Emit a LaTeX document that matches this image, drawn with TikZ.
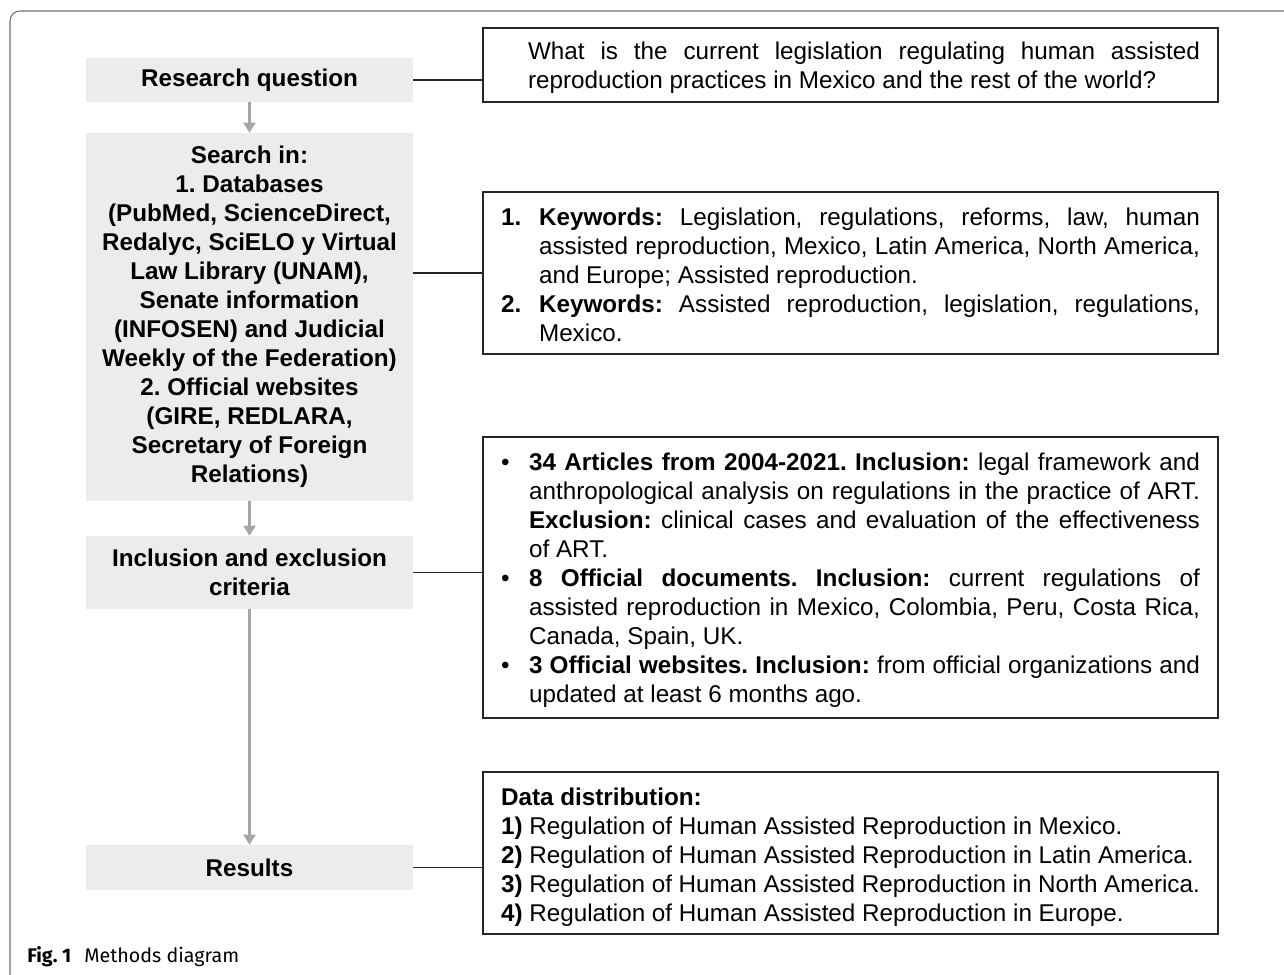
\documentclass[tikz,border=0pt]{standalone}
\usepackage{fontspec}
\setmainfont{Liberation Sans}
\newfontfamily\capfont{Fira Sans}
\usetikzlibrary{positioning, arrows.meta}
\definecolor{G1}{HTML}{ECECEC}
\definecolor{G2}{HTML}{A6A6A6}
\definecolor{G3}{HTML}{6E6E6E}
\frenchspacing

\begin{document}
\begin{tikzpicture}[
  x=0.02cm, y=-0.02cm,
  stage/.style = {fill=G1, align=center, minimum width=6.54cm, inner sep=0pt, font=\bfseries\fontsize{13.8}{16.5}\selectfont},
  note/.style = {draw=black!85, line width=0.8pt, align=justify, text width=13.98cm, inner xsep=0.36cm, inner ysep=0pt, font=\fontsize{13.8}{16.5}\selectfont},
  flow/.style = {draw=G2, line width=1.2pt, -{Triangle[width=0.24cm, length=0.2cm]}},
  link/.style = {draw=black!85, line width=0.6pt}
]
  \useasboundingbox (0,0) rectangle (1284,974);
  \draw[G3, line width=0.6pt, rounded corners=0.2cm] (1300,11) -- (10,11) -- (10,990);

  % Define stages
  \node[stage, minimum height=0.88cm] at (249.5,80) (rq) {Research question};
  \node[stage, minimum height=7.36cm] at (249.5,317) (search) {Search in:\\1. Databases\\(PubMed, ScienceDirect,\\Redalyc, SciELO y Virtual\\Law Library (UNAM),\\Senate information\\(INFOSEN) and Judicial\\Weekly of the Federation)\\2. Official websites\\(GIRE, REDLARA,\\Secretary of Foreign\\Relations)};
  \node[stage, minimum height=1.46cm] at (249.5,572.5) (incl) {Inclusion and exclusion\\criteria};
  \node[stage, minimum height=0.9cm] at (249.5,867.5) (res) {Results};

  % Define notes (the rule only lowers the text a little)
  \node[note, minimum height=1.48cm] at (850.5,65) (q) {\leftskip=0.54cm \rule{0pt}{13.5pt}What is the current legislation regulating human assisted\linebreak reproduction practices in Mexico and the rest of the world?\par};
  \node[note, minimum height=3.24cm] at (850.5,273) (kw) {%
    \hangindent=0.76cm \hangafter=1 \noindent\rule{0pt}{12pt}\hbox to 0.76cm{\textbf{1.}\hfil}\textbf{Keywords:} Legislation, regulations, reforms, law, human\linebreak assisted reproduction, Mexico, Latin America, North America,\linebreak and Europe; Assisted reproduction.\par
    \hangindent=0.76cm \hangafter=1 \noindent\hbox to 0.76cm{\textbf{2.}\hfil}\textbf{Keywords:} Assisted reproduction, legislation, regulations,\linebreak Mexico.\par};
  \node[note, minimum height=5.62cm] at (850.5,577.5) (ie) {%
    \hangindent=0.56cm \hangafter=1 \noindent\rule{0pt}{13.5pt}\hbox to 0.56cm{\textbullet\hfil}\textbf{34 Articles from 2004-2021. Inclusion:} legal framework and\linebreak anthropological analysis on regulations in the practice of ART.\linebreak \textbf{Exclusion:} clinical cases and evaluation of the effectiveness\linebreak of ART.\par
    \hangindent=0.56cm \hangafter=1 \noindent\hbox to 0.56cm{\textbullet\hfil}\textbf{8 Official documents. Inclusion:} current regulations of\linebreak assisted reproduction in Mexico, Colombia, Peru, Costa Rica,\linebreak Canada, Spain, UK.\par
    \hangindent=0.56cm \hangafter=1 \noindent\hbox to 0.56cm{\textbullet\hfil}\textbf{3 Official websites. Inclusion:} from official organizations and\linebreak updated at least 6 months ago.\par};
  \node[note, minimum height=3.24cm] at (850.5,853) (dd) {%
    \noindent\rule{0pt}{14.5pt}\textbf{Data distribution:}\par
    \noindent\textbf{1)} Regulation of Human Assisted Reproduction in Mexico.\par
    \noindent\textbf{2)} Regulation of Human Assisted Reproduction in Latin America.\par
    \noindent\textbf{3)} Regulation of Human Assisted Reproduction in North America.\par
    \noindent\textbf{4)} Regulation of Human Assisted Reproduction in Europe.\par};

  \node[anchor=base west, inner sep=0pt, font=\capfont\fontsize{11.2}{13}\selectfont] at (27,962) (cap) {\textbf{Fig. 1}\hspace{0.26cm}Methods diagram};

  \draw[flow] (rq) -- (search);
  \draw[flow] (search) -- (incl);
  \draw[flow] (incl) -- (res);

  \draw[link] (rq.east) -- (rq.east -| q.west);
  \draw[link] (kw.west) -- (kw.west -| search.east);
  \draw[link] (incl.east) -- (incl.east -| ie.west);
  \draw[link] (res.east) -- (res.east -| dd.west);
\end{tikzpicture}
\end{document}
